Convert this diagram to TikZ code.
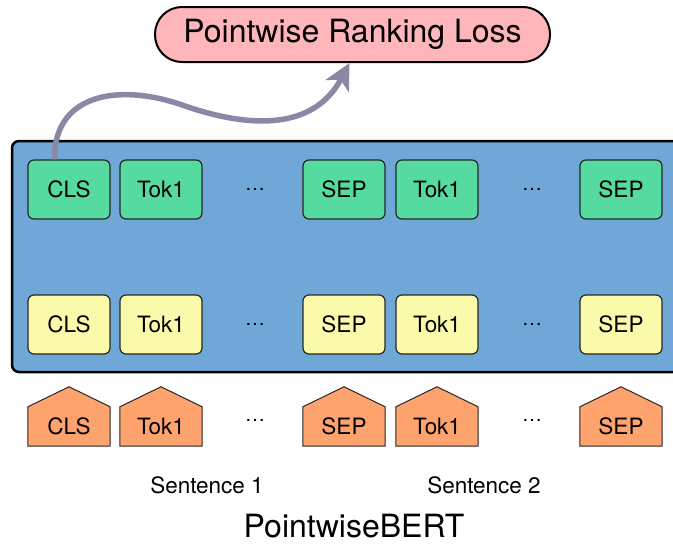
\documentclass[tikz,border=0pt]{standalone}
\usepackage{fontspec}
\setmainfont{TeX Gyre Heros}
\usetikzlibrary{arrows.meta,backgrounds,calc}
\definecolor{lossfill}{RGB}{255,182,187}
\definecolor{bertblue}{RGB}{111,168,214}
\definecolor{outgreen}{RGB}{85,219,160}
\definecolor{inyellow}{RGB}{250,250,170}
\definecolor{embor}{RGB}{255,163,110}
\definecolor{arrowgray}{RGB}{138,136,165}
\begin{document}
\begin{tikzpicture}[x=1pt,y=-1pt,
  tok/.style={draw=black!85, line width=1.2pt, rounded corners=6pt, minimum width=82pt, minimum height=59pt, inner sep=0pt, font=\fontsize{22.5}{27}\selectfont},
  outtok/.style={tok, fill=outgreen},
  intok/.style={tok, fill=inyellow},
  embtok/.style={minimum width=82pt, minimum height=39pt, inner sep=0pt, font=\fontsize{22.5}{27}\selectfont},
  dotsnode/.style={font=\fontsize{20}{24}\selectfont, inner sep=0pt},
  lbl/.style={font=\fontsize{22.5}{27}\selectfont, inner sep=0pt},
  bigl/.style={font=\fontsize{32}{38}\selectfont, inner sep=0pt},
  housebox/.style={draw=black!85, fill=embor, line width=1pt, line join=miter}]
\useasboundingbox (0,0) rectangle (673,544);
% loss
\node[draw=black, line width=2pt, fill=lossfill, rounded corners=27pt, minimum width=395pt, minimum height=55pt, inner sep=0pt, font=\fontsize{32}{38}\selectfont] (loss) at (352.5,34.5) {Pointwise Ranking Loss};
% BERT body
\draw[fill=bertblue, line width=2.5pt, rounded corners=7pt] (12,141) rectangle (700,372);
% output tokens
\node[outtok] (c1) at (69,189.5) {CLS};
\node[outtok] (c2) at (161,189.5) {Tok1};
\node[dotsnode] (cd1) at (255,189) {\dots};
\node[outtok] (c3) at (344,189.5) {SEP};
\node[outtok] (c4) at (437,189.5) {Tok1};
\node[dotsnode] (cd2) at (532,189) {\dots};
\node[outtok] (c5) at (621,189.5) {SEP};
% input tokens
\node[intok] (y1) at (69,324.5) {CLS};
\node[intok] (y2) at (161,324.5) {Tok1};
\node[dotsnode] (yd1) at (255,324) {\dots};
\node[intok] (y3) at (344,324.5) {SEP};
\node[intok] (y4) at (437,324.5) {Tok1};
\node[dotsnode] (yd2) at (532,324) {\dots};
\node[intok] (y5) at (621,324.5) {SEP};
% embeddings
\node[embtok] (e1) at (69,426.5) {CLS};
\node[embtok] (e2) at (161,426.5) {Tok1};
\node[dotsnode] (ed1) at (255,420) {\dots};
\node[embtok] (e3) at (344,426.5) {SEP};
\node[embtok] (e4) at (437,426.5) {Tok1};
\node[dotsnode] (ed2) at (532,420) {\dots};
\node[embtok] (e5) at (621,426.5) {SEP};
\begin{scope}[on background layer]
\foreach \n in {e1,e2,e3,e4,e5}
  \draw[housebox] (\n.south west) -- (\n.north west) -- ($(\n.north)+(0,-20)$) -- (\n.north east) -- (\n.south east) -- cycle;
\end{scope}
% labels
\node[lbl] (s1) at (207,485) {Sentence 1};
\node[lbl] (s2) at (484,485) {Sentence 2};
\node[bigl] (title) at (354,526) {PointwiseBERT};
% arrow
\draw[arrowgray, line width=5.5pt, -{Stealth[length=26pt,width=26pt,inset=7pt]}]
  ([xshift=27pt]c1.north west) .. controls (54,90) and (125,84) .. (185,106)
  .. controls (255,130) and (315,128) .. ([xshift=-3pt]loss.south);
\end{tikzpicture}
\end{document}
